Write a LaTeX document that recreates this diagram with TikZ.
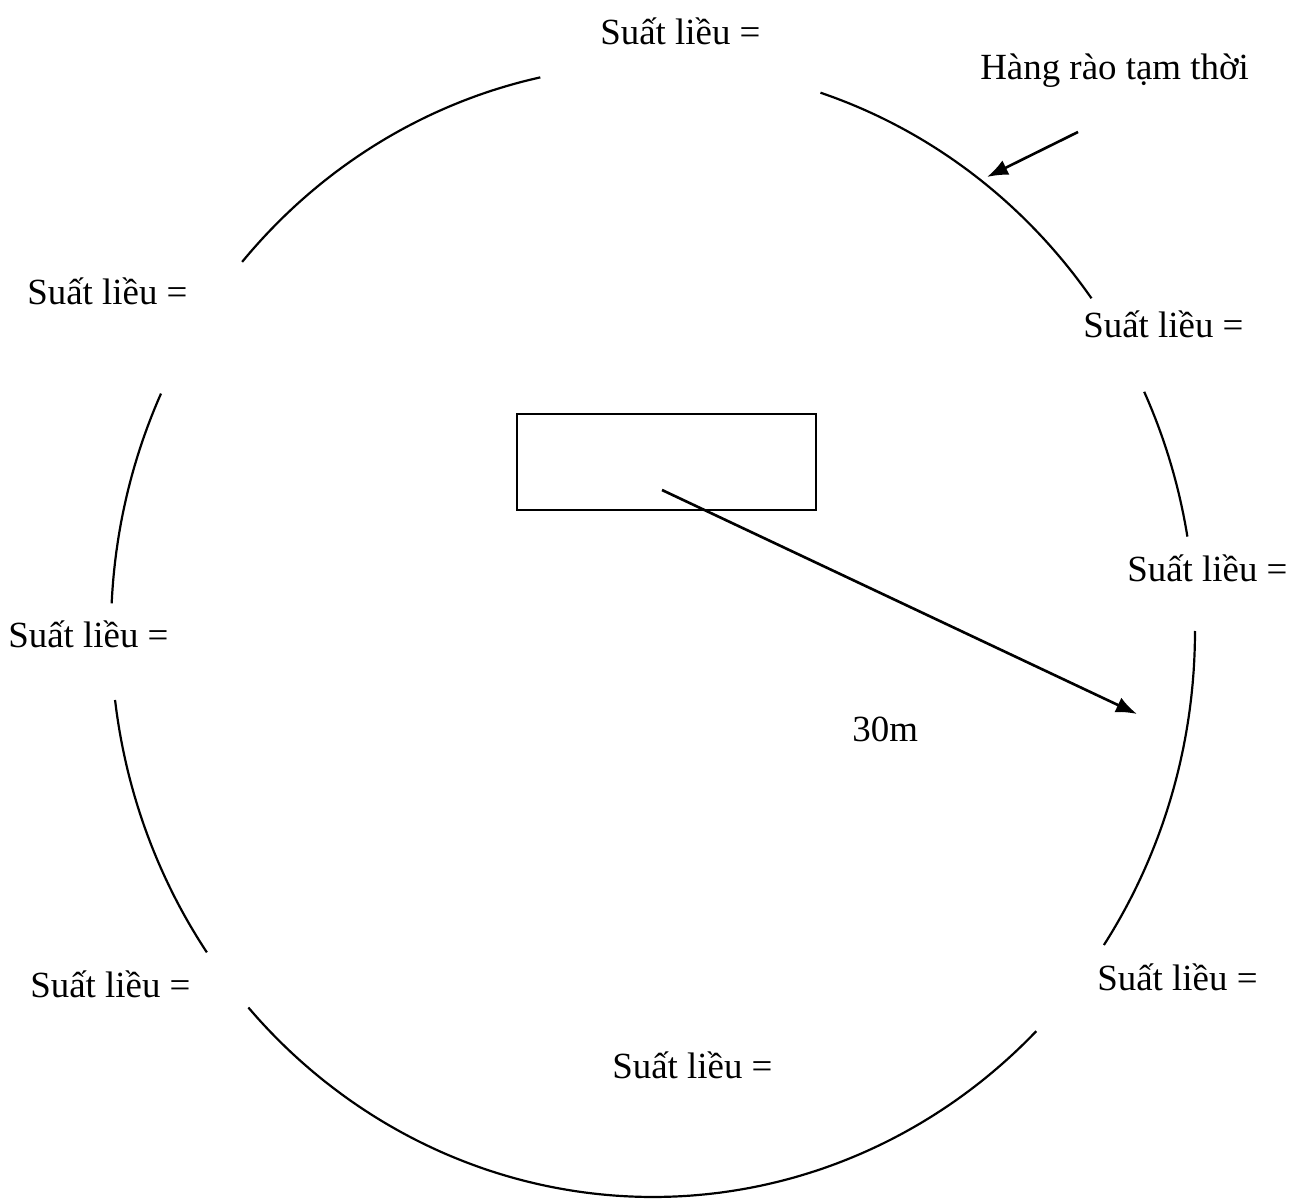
\documentclass[tikz,border=0pt]{standalone}
\usepackage{fontspec}
\setmainfont{Liberation Serif}
\usetikzlibrary{arrows.meta}
\begin{document}
\begin{tikzpicture}[x=0.02cm,y=-0.02cm,
  fence/.style={line width=1.25pt},
  lbl/.style={inner sep=0pt,anchor=base west,font=\fontsize{21}{25}\selectfont},
  ptr/.style={line width=1.5pt,-{Latex[length=21*0.02cm,width=16*0.02cm]}}]
\useasboundingbox (0,0) rectangle (1303,1199);
% fence arcs (ellipse centre 653,631; radii 542 x 566)
\foreach \a/\b in {36/72, 9.6/25, -33.7/0, 221.7/315, 187/214.6, 155.2/177.2, 102/139.3}
  \draw[fence] plot[domain=\a:\b, samples=60, smooth] ({653+542*cos(\x)},{631-566*sin(\x)});
% building
\node[draw,line width=1.25pt,minimum width=299*0.02cm,minimum height=96*0.02cm,inner sep=0pt] (bldg) at (666.5,462) {};
% labels
\node[lbl] (ltop) at (600,45) {Suất liều =};
\node[lbl] (lru) at (1083,338) {Suất liều =};
\node[lbl] (lrm) at (1127,582) {Suất liều =};
\node[lbl] (lrl) at (1097,990) {Suất liều =};
\node[lbl] (lbot) at (612,1078) {Suất liều =};
\node[lbl] (lll) at (30,997) {Suất liều =};
\node[lbl] (llm) at (8,648) {Suất liều =};
\node[lbl] (llt) at (27,305) {Suất liều =};
\node[lbl] (fence) at (980,80) {Hàng rào tạm thời};
\node[lbl] (dist) at (852,742) {30m};
% arrows
\coordinate (fs) at (1078,132);
\coordinate (fe) at (987,177);
\draw[ptr] (fs) -- (fe);
\coordinate (rs) at (662,490);
\coordinate (re) at (1137,714);
\draw[ptr] (rs) -- (re);
\end{tikzpicture}
\end{document}
